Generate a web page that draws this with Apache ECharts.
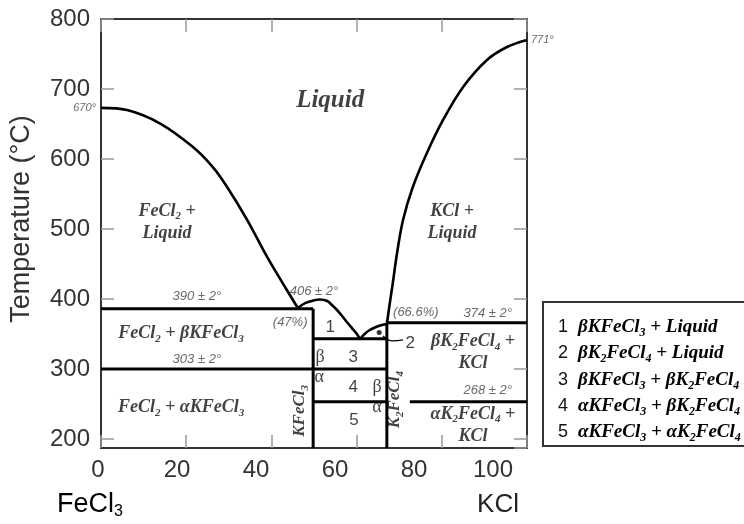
<!DOCTYPE html>
<html><head><meta charset="utf-8">
<script src="https://cdn.jsdelivr.net/npm/echarts@6/dist/echarts.min.js"></script>
<style>html,body{margin:0;padding:0;background:#fff}#c{width:744px;height:524px}</style>
</head><body><div id="c"></div>
<script>
// ---------------- data ----------------
const xTickLabels = [0, 20, 40, 60, 80, 100];
const yTickLabels = [200, 300, 400, 500, 600, 700, 800];
const yMin = 187, yMax = 800;
// liquidus of FeCl2 (mol % KCl, °C)
const leftLiquidus = [[0,673],[6.1,670],[13.8,651],[21.6,617],[26.3,588],[29.6,560],[34.3,513],[39.0,460],[42.5,424],[46.2,387]];
// liquidus of KFeCl3 (incongruent hump) down to eutectic
const kfeHump = [[46.2,387],[47.9,394],[49.8,397.7],[51.4,399.2],[53.1,397],[54.2,391.3],[55.4,384.2],[56.6,375.6],[57.7,367],[58.9,358.4],[59.9,351.3],[60.8,342.7]];
// liquidus of K2FeCl4
const k2feHump = [[60.8,342.7],[62.0,350.6],[63.1,355.6],[64.3,359.2],[65.5,362.1],[67.1,364.2]];
// liquidus of KCl
const rightLiquidus = [[67.1,364.2],[67.8,394.2],[68.5,422.7],[69.5,465.6],[70.9,512.8],[73.2,560],[76.5,608.5],[80.3,655.7],[85.0,702.8],[90.6,741.4],[95.3,760],[100,770]];
// invariant (horizontal) lines
const line390 = [[0,386],[49.8,386]];
const line303 = [[0,300],[67.1,300]];
const lineEut = [[49.8,343],[67.1,343]];
const line374 = [[67.1,366],[100,366]];
const line268a = [[49.8,253],[67.1,253]];
const line268b = [[72.5,253],[100,253]];
// compound lines
const kfecl3Line = [[49.8,yMin],[49.8,386]];
const k2fecl4Line = [[67.1,yMin],[67.1,364.2]];
const region2Dot = [[65.3,352]];
const region2Leader = [[66.2,347],[68.5,340],[70.9,341.4]];
// legend texts
const legendNums = ['1','2','3','4','5'];
const legendTexts = [
  '{t|βKFeCl}{s|3}{t| + Liquid}',
  '{t|βK}{s|2}{t|FeCl}{s|4}{t| + Liquid}',
  '{t|βKFeCl}{s|3}{t| + βK}{s|2}{t|FeCl}{s|4}',
  '{t|αKFeCl}{s|3}{t| + βK}{s|2}{t|FeCl}{s|4}',
  '{t|αKFeCl}{s|3}{t| + αK}{s|2}{t|FeCl}{s|4}'
];

// ---------------- styles ----------------
const SERIF = 'Liberation Serif, Times New Roman, serif';
const SANS = 'Liberation Sans, Arial, sans-serif';
function richSet(size) {
  const b = {fontFamily: SERIF, fontWeight: 'bold', fontStyle: 'italic', color: '#111'};
  return {
    t: Object.assign({}, b, {fontSize: size, lineHeight: size + 4}),
    s: Object.assign({}, b, {fontSize: Math.round(size * 0.62), lineHeight: Math.round(size * 0.62), verticalAlign: 'bottom'}),
    L: Object.assign({}, b, {fontSize: 25, lineHeight: 28}),
    n: {fontFamily: SANS, fontSize: 17, color: '#111'},
    g: {fontFamily: SERIF, fontSize: 18, color: '#111'},
    m: {fontFamily: SANS, fontStyle: 'italic', fontSize: 13, color: '#444'},
    k: {fontFamily: SANS, fontStyle: 'italic', fontSize: 11, color: '#444'}
  };
}
const RICH = richSet(18);
const RICH_LEG = richSet(19);
const RICH_ROT = richSet(17);

function lab(text, x, y, extra) {
  return {value: [x, y], label: Object.assign({show: true, formatter: text, position: 'inside', align: 'center', verticalAlign: 'middle', rich: RICH}, extra || {})};
}
const annotations = [
  lab('{L|Liquid}', 53.8, 684),
  lab('{t|FeCl}{s|2}{t| +}\n{t|Liquid}', 15.5, 510),
  lab('{t|KCl +}\n{t|Liquid}', 82.4, 510),
  lab('{m|390 ± 2°}', 22.5, 403),
  lab('{m|303 ± 2°}', 22.5, 313),
  lab('{m|(47%)}', 44.4, 366),
  lab('{m|406 ± 2°}', 50.0, 411),
  lab('{m|(66.6%)}', 73.9, 381),
  lab('{m|374 ± 2°}', 90.8, 380),
  lab('{m|268 ± 2°}', 90.8, 270),
  lab('{t|FeCl}{s|2}{t| + βKFeCl}{s|3}', 18.8, 351),
  lab('{t|FeCl}{s|2}{t| + αKFeCl}{s|3}', 18.8, 245),
  lab('{t|KFeCl}{s|3}', 46.7, 240, {rotate: 90, rich: RICH_ROT}),
  lab('{t|K}{s|2}{t|FeCl}{s|4}', 69.0, 256, {rotate: 90, rich: RICH_ROT}),
  lab('{n|1}', 53.8, 360),
  lab('{g|β}', 51.4, 317),
  lab('{n|3}', 59.2, 317),
  lab('{g|α}', 51.2, 288),
  lab('{n|4}', 59.2, 274),
  lab('{g|β}', 64.8, 274),
  lab('{n|5}', 59.4, 227),
  lab('{g|α}', 64.8, 245),
  lab('{n|2}', 72.6, 337),
  lab('{t|βK}{s|2}{t|FeCl}{s|4}{t| +}\n{t|KCl}', 87.3, 323),
  lab('{t|αK}{s|2}{t|FeCl}{s|4}{t| +}\n{t|KCl}', 87.3, 220),
  lab('{k|670°}', 0, 673, {position: 'left', distance: 5, align: 'right'}),
  lab('{k|771°}', 100, 770, {position: 'right', distance: 4, align: 'left'})
];

function lineSeries(data, smooth, width) {
  return {type: 'line', data: data, xAxisIndex: 0, yAxisIndex: 0, showSymbol: false, symbol: 'none', smooth: smooth || false,
    lineStyle: {color: '#000', width: width || 2.6}, silent: true, animation: false, z: 3, clip: false};
}

function ticks() { return {show: true, inside: true, length: 13, lineStyle: {color: '#999', width: 1.5}}; }
const noLine = {show: false, onZero: false};

const legendChildren = [{type: 'rect', shape: {x: 0, y: 0, width: 220, height: 144}, style: {fill: '#fff', stroke: '#333', lineWidth: 2}}];
const legendRows = [25, 51, 78, 104, 130];
legendNums.forEach(function (n, i) {
  legendChildren.push({type: 'text', x: 20, y: legendRows[i], style: {text: n, font: '18px ' + SANS, fill: '#111', align: 'center', verticalAlign: 'middle'}});
  legendChildren.push({type: 'text', x: 35, y: legendRows[i], style: {text: legendTexts[i], rich: RICH_LEG, align: 'left', verticalAlign: 'middle'}});
});

const chart = echarts.init(document.getElementById('c'), null, {renderer: 'canvas'});
chart.setOption({
  animation: false,
  backgroundColor: '#fff',
  grid: [
    {left: 101, top: 19, width: 426, height: 429, show: true, borderColor: '#333', borderWidth: 2, backgroundColor: 'transparent', containLabel: false},
    {left: 98, top: 19, width: 395, height: 429, show: false, containLabel: false}
  ],
  xAxis: [
    {gridIndex: 0, type: 'value', min: 0, max: 100, interval: 20, position: 'bottom', axisLine: noLine, axisTick: ticks(), axisLabel: {show: false}, splitLine: {show: false}},
    {gridIndex: 0, type: 'value', min: 0, max: 100, interval: 20, position: 'top', axisLine: noLine, axisTick: ticks(), axisLabel: {show: false}, splitLine: {show: false}},
    {gridIndex: 1, type: 'value', min: 0, max: 100, interval: 20, position: 'bottom', axisLine: noLine, axisTick: {show: false}, splitLine: {show: false},
      axisLabel: {show: true, fontFamily: SANS, fontSize: 24, color: '#333', margin: 10,
        formatter: function (v) { return xTickLabels.indexOf(v) >= 0 ? String(v) : ''; }}}
  ],
  yAxis: [
    {gridIndex: 0, type: 'value', min: yMin, max: yMax, position: 'left', axisLine: noLine, splitLine: {show: false},
      axisTick: ticks(),
      axisLabel: {show: true, fontFamily: SANS, fontSize: 24, color: '#333', margin: 11, showMinLabel: false, showMaxLabel: true,
        formatter: function (v) { return yTickLabels.indexOf(v) >= 0 ? String(v) : ''; }}},
    {gridIndex: 0, type: 'value', min: yMin, max: yMax, position: 'right', axisLine: noLine, splitLine: {show: false},
      axisTick: ticks(), axisLabel: {show: false}},
    {gridIndex: 1, type: 'value', min: yMin, max: yMax, show: false}
  ],
  graphic: [
    {type: 'text', x: 22, y: 219, rotation: Math.PI / 2, style: {text: 'Temperature (°C)', font: '27px ' + SANS, fill: '#333', align: 'center', verticalAlign: 'middle'}},
    {type: 'text', x: 57, y: 505, style: {text: '{a|FeCl}{b|3}', rich: {a: {fontFamily: SANS, fontSize: 27, color: '#222', lineHeight: 30}, b: {fontFamily: SANS, fontSize: 16, color: '#222', lineHeight: 18, verticalAlign: 'bottom'}}, align: 'left', verticalAlign: 'middle'}},
    {type: 'text', x: 498, y: 505, style: {text: 'KCl', font: '26px ' + SANS, fill: '#222', align: 'center', verticalAlign: 'middle'}},
    {type: 'group', x: 543, y: 302, children: legendChildren}
  ],
  series: [
    lineSeries(leftLiquidus, 0.35),
    lineSeries(kfeHump, 0.35),
    lineSeries(k2feHump, 0.35),
    lineSeries(rightLiquidus, 0.35),
    lineSeries(line390, false, 3),
    lineSeries(line303, false, 3),
    lineSeries(lineEut, false, 3),
    lineSeries(line374, false, 3),
    lineSeries(line268a, false, 3),
    lineSeries(line268b, false, 3),
    lineSeries(kfecl3Line, false, 3),
    lineSeries(k2fecl4Line, false, 3),
    lineSeries(region2Leader, 0.5, 1.2),
    {type: 'scatter', data: region2Dot, symbol: 'circle', symbolSize: 5, itemStyle: {color: '#000'}, silent: true, z: 4},
    {type: 'scatter', data: annotations, symbolSize: 0, itemStyle: {color: 'transparent'}, silent: true, z: 5, clip: false}
  ]
});
</script></body></html>
